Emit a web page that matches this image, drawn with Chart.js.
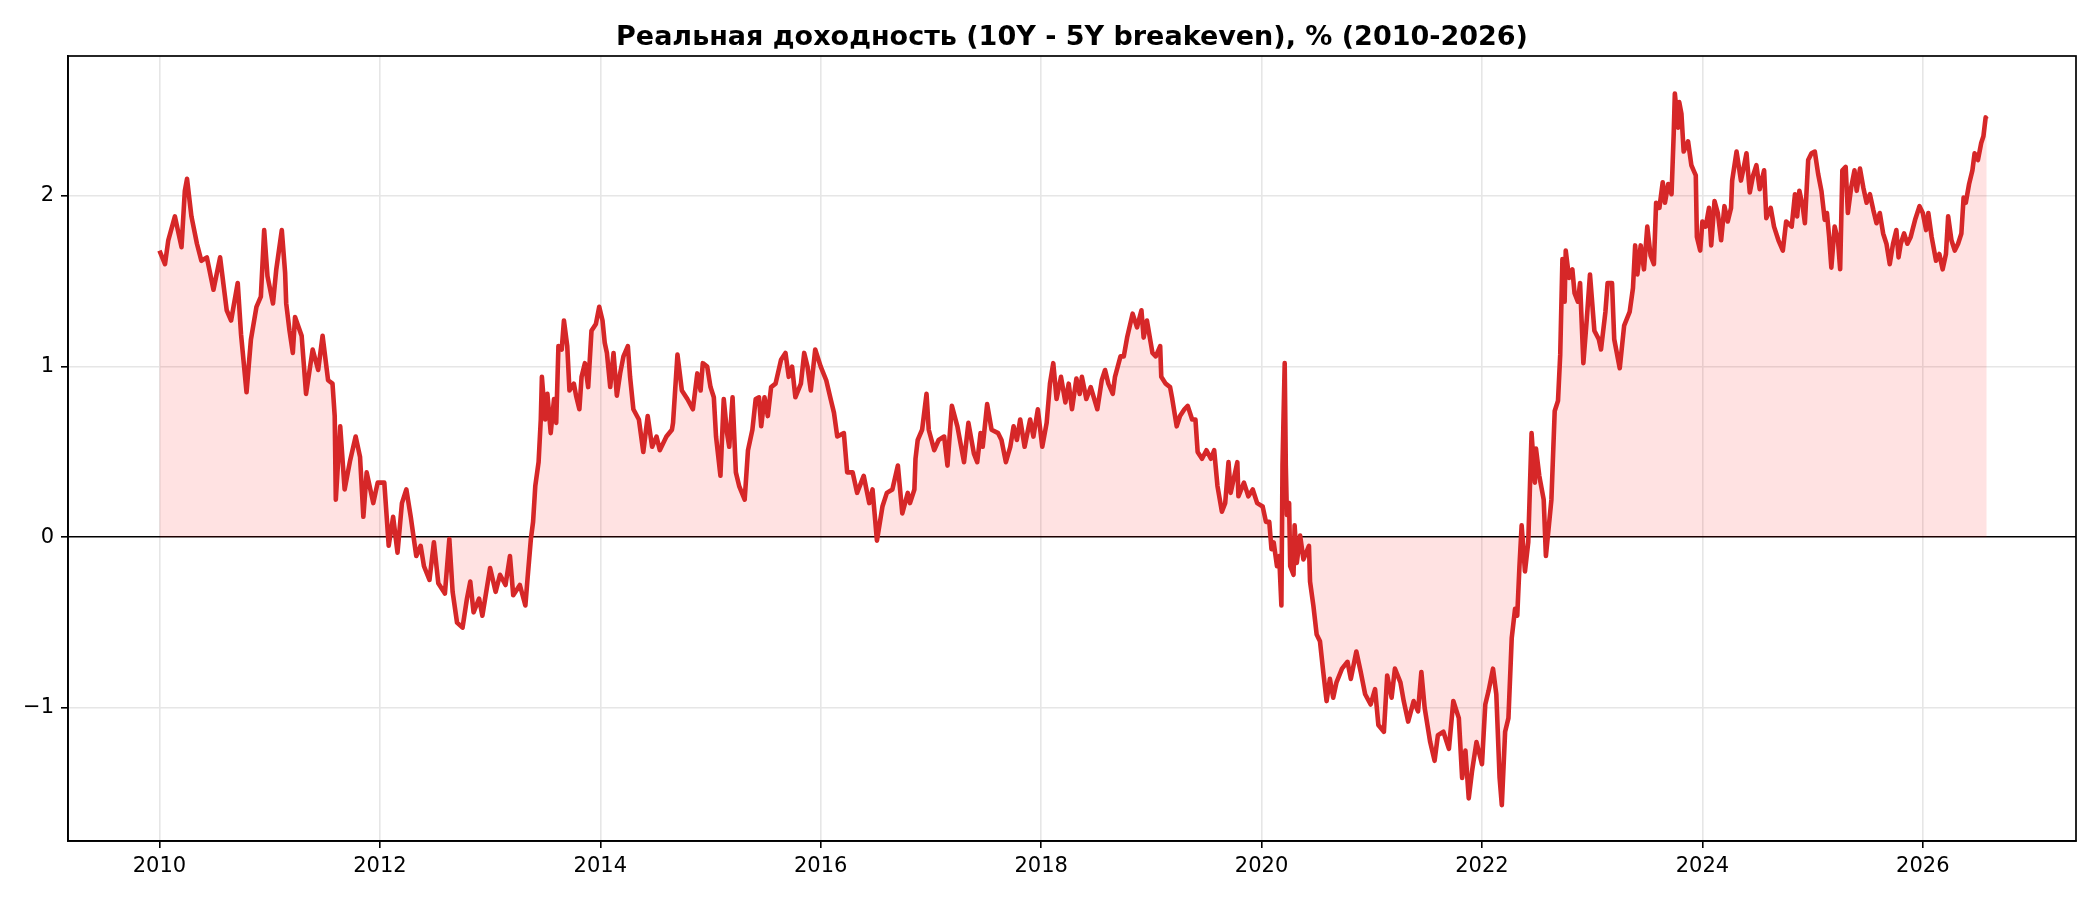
<!DOCTYPE html>
<html>
<head>
<meta charset="utf-8">
<script src="https://cdn.jsdelivr.net/npm/chart.js@4.4.1/dist/chart.umd.min.js"></script>
<style>
  html, body { margin: 0; padding: 0; background: #fff; }
  #wrap { width: 2100px; height: 900px; position: relative; }
</style>
</head>
<body>
<div id="wrap"><canvas id="c"></canvas></div>
<script>
const dates2010 = [2010.00,2010.05,2010.08,2010.14,2010.20,2010.23,2010.25,2010.29,2010.34,2010.38,2010.43,2010.49,2010.55,2010.61,2010.65,2010.71,2010.74,2010.79,2010.83,2010.88,2010.92,2010.95,2010.98,2011.03,2011.06,2011.11,2011.14,2011.15,2011.18,2011.21,2011.23,2011.29,2011.33,2011.39,2011.44,2011.48,2011.53,2011.57,2011.59,2011.60,2011.64,2011.68,2011.73,2011.78,2011.82,2011.85,2011.88,2011.94,2011.98,2012.04,2012.08,2012.12,2012.16,2012.20,2012.24,2012.28,2012.33,2012.37,2012.40,2012.45,2012.49,2012.53,2012.59,2012.63];
const values2010 = [1.68,1.60,1.74,1.88,1.70,2.03,2.10,1.88,1.72,1.62,1.64,1.45,1.64,1.33,1.27,1.49,1.19,0.85,1.16,1.35,1.41,1.80,1.53,1.37,1.57,1.80,1.55,1.37,1.21,1.08,1.29,1.18,0.84,1.10,0.98,1.18,0.92,0.90,0.71,0.22,0.65,0.28,0.45,0.59,0.47,0.12,0.38,0.20,0.32,0.32,-0.05,0.12,-0.09,0.20,0.28,0.12,-0.11,-0.05,-0.17,-0.25,-0.03,-0.27,-0.33,-0.01];

const dates2012 = [2012.66,2012.70,2012.75,2012.79,2012.82,2012.85,2012.90,2012.93,2012.97,2013.00,2013.05,2013.09,2013.14,2013.18,2013.21,2013.27,2013.32,2013.34,2013.37,2013.39,2013.41,2013.44,2013.46,2013.47,2013.50,2013.52,2013.55,2013.58,2013.60,2013.62,2013.65,2013.67,2013.70,2013.72,2013.76,2013.78,2013.81,2013.83,2013.86,2013.89,2013.92,2013.96,2013.99,2014.02,2014.04,2014.06,2014.09,2014.12,2014.15,2014.18,2014.21,2014.25,2014.27,2014.30,2014.35,2014.39,2014.43,2014.47,2014.51,2014.54,2014.60,2014.65,2014.66,2014.70,2014.74,2014.79,2014.84,2014.88];
const values2012 = [-0.32,-0.50,-0.53,-0.36,-0.26,-0.44,-0.36,-0.46,-0.30,-0.18,-0.32,-0.22,-0.28,-0.11,-0.34,-0.28,-0.40,-0.24,-0.01,0.09,0.30,0.44,0.69,0.94,0.69,0.84,0.61,0.81,0.67,1.12,1.10,1.27,1.12,0.86,0.90,0.83,0.75,0.94,1.02,0.88,1.21,1.25,1.35,1.27,1.14,1.08,0.88,1.08,0.83,0.96,1.06,1.12,0.94,0.75,0.69,0.50,0.71,0.53,0.59,0.51,0.59,0.63,0.67,1.07,0.86,0.81,0.75,0.96];

const dates2015 = [2014.91,2014.93,2014.97,2015.00,2015.03,2015.05,2015.09,2015.12,2015.15,2015.17,2015.20,2015.23,2015.26,2015.31,2015.34,2015.38,2015.41,2015.44,2015.46,2015.49,2015.52,2015.55,2015.59,2015.64,2015.68,2015.71,2015.74,2015.77,2015.82,2015.85,2015.88,2015.91,2015.95,2016.00,2016.05,2016.09,2016.12,2016.15,2016.21,2016.24,2016.29,2016.33,2016.39,2016.44,2016.47,2016.51,2016.56,2016.60,2016.65,2016.70,2016.74,2016.79,2016.81,2016.85,2016.86,2016.88,2016.92,2016.96,2016.98,2017.03,2017.07,2017.12,2017.15,2017.19,2017.24,2017.30,2017.34,2017.39,2017.42];
const values2015 = [0.86,1.02,1.00,0.88,0.82,0.59,0.36,0.81,0.61,0.53,0.82,0.38,0.30,0.22,0.51,0.63,0.81,0.82,0.65,0.82,0.71,0.88,0.90,1.04,1.08,0.94,1.00,0.82,0.90,1.08,1.00,0.86,1.10,1.00,0.92,0.81,0.73,0.59,0.61,0.38,0.38,0.26,0.36,0.20,0.28,-0.02,0.18,0.26,0.28,0.42,0.14,0.26,0.20,0.28,0.46,0.57,0.63,0.84,0.63,0.51,0.57,0.59,0.42,0.77,0.65,0.44,0.67,0.49,0.44];

const dates2017 = [2017.45,2017.47,2017.51,2017.55,2017.61,2017.64,2017.68,2017.72,2017.75,2017.78,2017.81,2017.85,2017.90,2017.93,2017.97,2018.01,2018.05,2018.08,2018.11,2018.14,2018.18,2018.22,2018.25,2018.28,2018.32,2018.35,2018.37,2018.41,2018.45,2018.51,2018.55,2018.58,2018.61,2018.65,2018.67,2018.72,2018.75,2018.78,2018.83,2018.87,2018.91,2018.93,2018.96,2019.01,2019.04,2019.08,2019.09,2019.13,2019.17,2019.19,2019.23,2019.26,2019.30,2019.33,2019.37,2019.40,2019.42,2019.46,2019.50,2019.54,2019.57,2019.60,2019.64,2019.67,2019.70,2019.72,2019.78,2019.79,2019.84,2019.88,2019.92,2019.96,2020.01,2020.04,2020.07,2020.09,2020.11,2020.14];
const values2017 = [0.61,0.53,0.78,0.63,0.61,0.57,0.44,0.53,0.65,0.57,0.69,0.53,0.69,0.59,0.75,0.53,0.67,0.90,1.02,0.81,0.94,0.79,0.90,0.75,0.93,0.84,0.94,0.81,0.88,0.75,0.92,0.98,0.90,0.84,0.94,1.06,1.06,1.17,1.31,1.23,1.33,1.17,1.27,1.08,1.06,1.12,0.94,0.90,0.88,0.81,0.65,0.71,0.75,0.77,0.69,0.69,0.50,0.46,0.51,0.46,0.51,0.30,0.15,0.20,0.44,0.26,0.44,0.24,0.32,0.24,0.28,0.20,0.18,0.09,0.09,-0.07,-0.03,-0.17];

const dates2020 = [2020.16,2020.18,2020.19,2020.21,2020.22,2020.23,2020.25,2020.26,2020.29,2020.30,2020.32,2020.35,2020.38,2020.43,2020.44,2020.47,2020.50,2020.53,2020.56,2020.59,2020.62,2020.65,2020.68,2020.73,2020.78,2020.81,2020.86,2020.90,2020.94,2020.99,2021.03,2021.06,2021.11,2021.14,2021.18,2021.21,2021.26,2021.29,2021.33,2021.38,2021.42,2021.45,2021.48,2021.53,2021.57,2021.60,2021.65,2021.70,2021.74,2021.79,2021.82,2021.85,2021.88,2021.91,2021.95,2022.00,2022.03,2022.06,2022.10,2022.13,2022.16,2022.18,2022.21,2022.24,2022.27,2022.30,2022.32,2022.34,2022.36,2022.39,2022.42,2022.45,2022.48,2022.49,2022.52,2022.56,2022.58];
const values2020 = [-0.11,-0.40,0.42,1.02,0.42,0.13,0.20,-0.17,-0.22,0.07,-0.15,0.01,-0.13,-0.05,-0.26,-0.40,-0.57,-0.61,-0.79,-0.96,-0.83,-0.94,-0.85,-0.77,-0.73,-0.83,-0.67,-0.79,-0.92,-0.98,-0.89,-1.10,-1.14,-0.81,-0.94,-0.77,-0.85,-0.96,-1.08,-0.96,-1.02,-0.79,-1.00,-1.20,-1.31,-1.16,-1.14,-1.24,-0.96,-1.06,-1.41,-1.25,-1.53,-1.37,-1.20,-1.33,-0.98,-0.90,-0.77,-0.92,-1.41,-1.57,-1.14,-1.06,-0.59,-0.42,-0.46,-0.17,0.07,-0.20,-0.03,0.61,0.32,0.52,0.36,0.22,-0.11];

const dates2022 = [2022.63,2022.66,2022.69,2022.71,2022.73,2022.75,2022.76,2022.79,2022.82,2022.84,2022.87,2022.89,2022.92,2022.95,2022.98,2023.02,2023.06,2023.08,2023.12,2023.14,2023.18,2023.20,2023.25,2023.29,2023.34,2023.37,2023.39,2023.41,2023.44,2023.47,2023.50,2023.53,2023.56,2023.58,2023.61,2023.64,2023.66,2023.69,2023.72,2023.74,2023.75,2023.78,2023.79,2023.81,2023.83,2023.87,2023.90,2023.92,2023.94,2023.95,2023.98,2024.00,2024.03,2024.06,2024.08,2024.11,2024.14,2024.17,2024.20,2024.23,2024.26,2024.27,2024.31,2024.35,2024.37,2024.40,2024.43,2024.46,2024.49,2024.52,2024.56,2024.58,2024.62,2024.65,2024.69,2024.73,2024.76];
const values2022 = [0.22,0.74,0.80,1.07,1.63,1.38,1.68,1.52,1.57,1.43,1.38,1.49,1.02,1.27,1.54,1.21,1.16,1.10,1.32,1.49,1.49,1.16,0.99,1.24,1.32,1.46,1.71,1.54,1.71,1.57,1.82,1.65,1.60,1.96,1.93,2.08,1.96,2.07,2.01,2.37,2.60,2.40,2.55,2.48,2.26,2.32,2.18,2.15,2.12,1.76,1.68,1.85,1.82,1.93,1.71,1.97,1.90,1.74,1.94,1.85,1.93,2.09,2.26,2.09,2.15,2.25,2.02,2.12,2.18,2.04,2.15,1.87,1.93,1.82,1.74,1.68,1.85];

const dates2025 = [2024.81,2024.84,2024.86,2024.88,2024.91,2024.93,2024.96,2024.99,2025.02,2025.05,2025.08,2025.11,2025.13,2025.15,2025.17,2025.20,2025.23,2025.25,2025.27,2025.30,2025.32,2025.35,2025.38,2025.40,2025.43,2025.46,2025.49,2025.52,2025.55,2025.58,2025.61,2025.64,2025.67,2025.70,2025.73,2025.76,2025.78,2025.80,2025.83,2025.86,2025.89,2025.93,2025.97,2026.00,2026.03,2026.05,2026.08,2026.12,2026.15,2026.18,2026.21,2026.23,2026.26,2026.29,2026.32,2026.35,2026.37,2026.39,2026.42,2026.45,2026.47,2026.50,2026.53,2026.55,2026.57,2026.58];
const values2025 = [1.82,2.01,1.88,2.03,1.94,1.84,2.21,2.25,2.26,2.13,2.03,1.86,1.90,1.76,1.58,1.82,1.74,1.57,2.15,2.17,1.90,2.05,2.15,2.03,2.16,2.05,1.96,2.01,1.92,1.84,1.90,1.78,1.72,1.60,1.72,1.80,1.64,1.72,1.78,1.72,1.76,1.86,1.94,1.90,1.80,1.90,1.76,1.62,1.66,1.57,1.66,1.88,1.74,1.68,1.72,1.78,1.99,1.96,2.07,2.15,2.25,2.21,2.31,2.35,2.46,2.45];

const xTickYears = [2010, 2012, 2014, 2016, 2018, 2020, 2022, 2024, 2026];
const yTickValues = [-1, 0, 1, 2];
const titleText = 'Реальная доходность (10Y - 5Y breakeven), % (2010-2026)';

// ---- Build series ----
const allDates = [].concat(dates2010, dates2012, dates2015, dates2017, dates2020, dates2022, dates2025);
const allValues = [].concat(values2010, values2012, values2015, values2017, values2020, values2022, values2025);
const points = allDates.map((d, i) => ({ x: d, y: allValues[i] }));

const FONT = "'DejaVu Sans', sans-serif";

const framePlugin = {
  id: 'frame',
  afterLayout(chart) {
    const t = chart.titleBlock;
    if (t) {
      t.left = chart.chartArea.left;
      t.right = chart.chartArea.right;
      t.width = t.right - t.left;
    }
  },
  afterDraw(chart) {
    const a = chart.chartArea;
    const ctx = chart.ctx;
    ctx.save();
    ctx.strokeStyle = '#000';
    ctx.lineWidth = 1.7;
    ctx.strokeRect(a.left, a.top, a.right - a.left, a.bottom - a.top);
    ctx.restore();
  }
};

new Chart(document.getElementById('c'), {
  type: 'line',
  data: {
    datasets: [{
      data: points,
      borderColor: '#d62728',
      borderWidth: 4.6,
      backgroundColor: 'rgba(255,0,0,0.115)',
      fill: 'origin',
      pointRadius: 0,
      tension: 0,
      borderJoinStyle: 'round',
      borderCapStyle: 'butt'
    }]
  },
  options: {
    responsive: true,
    maintainAspectRatio: false,
    devicePixelRatio: 1,
    animation: false,
    events: [],
    layout: { padding: { left: 0, right: 24, top: 0, bottom: 0 } },
    plugins: {
      legend: { display: false },
      tooltip: { enabled: false },
      title: {
        display: true,
        text: titleText,
        color: '#000',
        font: { family: FONT, size: 27, weight: 'bold', lineHeight: 1.2 },
        padding: { top: 22, bottom: 1.6 }
      }
    },
    scales: {
      x: {
        type: 'linear',
        min: 2009.17,
        max: 2027.39,
        afterBuildTicks: (axis) => { axis.ticks = xTickYears.map(v => ({ value: v })); },
        afterFit: (scale) => { scale.height = 59; },
        ticks: {
          color: '#000',
          font: { family: FONT, size: 21 },
          padding: 6,
          maxRotation: 0,
          autoSkip: false,
          callback: (v) => String(v)
        },
        grid: {
          color: '#e6e6e6',
          lineWidth: 1.6,
          drawTicks: true,
          tickLength: 7,
          tickColor: '#000',
          tickWidth: 1.6
        },
        border: { display: true, color: '#000', width: 1.7 }
      },
      y: {
        type: 'linear',
        min: -1.78,
        max: 2.82,
        afterBuildTicks: (axis) => { axis.ticks = yTickValues.map(v => ({ value: v })); },
        afterFit: (scale) => { scale.width = 68; },
        ticks: {
          color: '#000',
          font: { family: FONT, size: 21 },
          padding: 7,
          autoSkip: false,
          callback: (v) => (v < 0 ? '\u2212' + Math.abs(v) : String(v))
        },
        grid: {
          color: (c) => (c.tick && c.tick.value === 0 ? '#000000' : '#e6e6e6'),
          lineWidth: 1.6,
          drawTicks: true,
          tickLength: 7,
          tickColor: '#000',
          tickWidth: 1.6
        },
        border: { display: true, color: '#000', width: 1.7 }
      }
    }
  },
  plugins: [framePlugin]
});
</script>
</body>
</html>
